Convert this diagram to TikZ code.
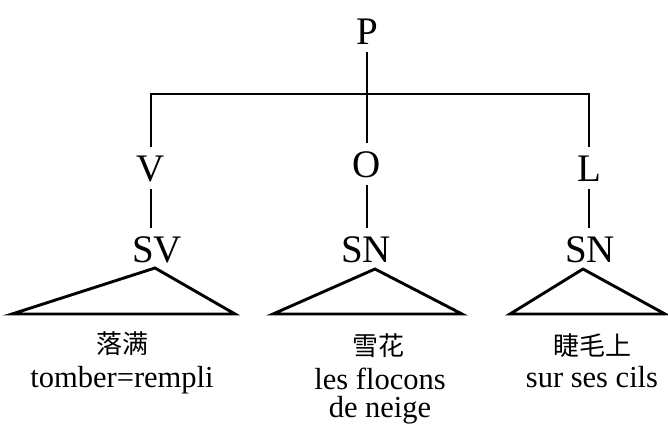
\documentclass[tikz,border=0pt]{standalone}
\usepackage{fontspec}
\setmainfont{Liberation Serif}
\newfontfamily\cjk{Noto Sans CJK SC}
\begin{document}
\begin{tikzpicture}[x=1pt,y=-1pt,
  lbl/.style={font=\fontsize{39}{40}\selectfont, text height=26pt, text depth=0pt, inner sep=0pt, outer sep=8pt, anchor=center},
  gloss/.style={font=\fontsize{30.5}{32}\selectfont, inner sep=0pt, anchor=base},
  zh/.style={font=\cjk\fontsize{26}{28}\selectfont, inner sep=0pt, anchor=center},
  edge/.style={line width=2.9pt},
  tri/.style={line width=2.9pt, line join=miter}]
\useasboundingbox (0,0) rectangle (668,423);
% labels
\node[lbl] (P) at (367,31) {P};
\node[lbl] (V) at (151,168) {V};
\node[lbl] (O) at (367,164) {O};
\node[lbl] (L) at (589,168) {L};
\node[lbl] (SV) at (157,249) {SV};
\node[lbl] (SN1) at (366,249) {SN};
\node[lbl] (SN2) at (590,249) {SN};
\coordinate (bar) at (0,94);
% connectors
\draw[edge] (P) -- (O);
\draw[edge] (V.north) -- (V.north |- bar) -- (L.north |- bar) -- (L.north);
\draw[edge] (V.south) -- (V.south |- SV.north);
\draw[edge] (O.south) -- (O.south |- SN1.north);
\draw[edge] (L.south) -- (L.south |- SN2.north);
% triangles
\coordinate (t1a) at (155,268); \coordinate (t1l) at (12,314); \coordinate (t1r) at (235,314);
\coordinate (t2a) at (375,269); \coordinate (t2l) at (273,314); \coordinate (t2r) at (462,314);
\coordinate (t3a) at (583,269); \coordinate (t3l) at (510,314); \coordinate (t3r) at (665,314);
\draw[tri] (t1a) -- (t1l) -- (t1r) -- cycle;
\draw[tri] (t2a) -- (t2l) -- (t2r) -- cycle;
\draw[tri] (t3a) -- (t3l) -- (t3r) -- cycle;
% glosses
\node[zh] (z1) at (122,344) {落满};
\node[gloss] (g1) at (122,387) {tomber=rempli};
\node[zh] (z2) at (378,346) {雪花};
\node[gloss] (g2) at (380,389) {les flocons};
\node[gloss] (g2b) at (380,417) {de neige};
\node[zh] (z3) at (592,346) {睫毛上};
\node[gloss] (g3) at (592,387) {sur ses cils};
\end{tikzpicture}
\end{document}
